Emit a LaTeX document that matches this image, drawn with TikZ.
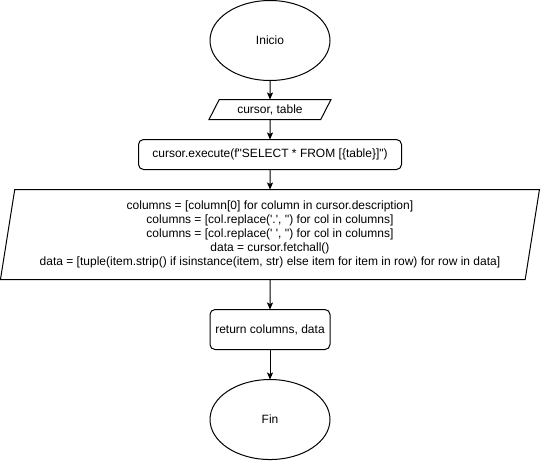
\documentclass[tikz,border=0pt]{standalone}
\usepackage{fontspec}
\setmainfont{Liberation Sans}[Ligatures=TeXOff]
\usepackage{tikz}
\usetikzlibrary{positioning,shapes.geometric,arrows.meta}
\tikzset{
  terminal/.style={ % image of a start / end node
    draw, ellipse, minimum width=120pt, minimum height=80pt,
    inner sep=0pt, outer sep=0pt, text=black
  },
  entrada/.style={ % image of an input parallelogram
    draw, trapezium, trapezium left angle=45, trapezium right angle=135,
    trapezium stretches body, inner sep=0pt, outer sep=0pt, text=black
  },
  proceso/.style={ % image of a process box
    draw, rectangle, rounded corners=5pt, inner sep=0pt, outer sep=0pt,
    text=black
  },
  flecha/.style={
    -{Stealth[length=7pt,width=6pt,inset=1.5pt]}
  }
}

\begin{document}
\begin{tikzpicture}[
      x=1pt, y=1pt, line width=1pt, node distance=20pt,
      font=\fontsize{12}{14}\selectfont
    ]
      \useasboundingbox (0,0) rectangle (541,-461);

      \node[terminal] (inicio) at (270,-40.5) {Inicio};
      \node[entrada, minimum width=122pt, minimum height=20pt]
        (params) [below=19pt of inicio] {cursor, table};
      \node[proceso, minimum width=263pt, minimum height=30pt]
        (execute) [below=of params] {cursor.execute(f"SELECT * FROM [\{table\}]")};
      \node[entrada, trapezium left angle=78, trapezium right angle=102,
        minimum width=539pt, minimum height=90pt, align=center]
        (datos) [below=of execute] {columns = [column[0] for column in cursor.description]\\
        columns = [col.replace('.', '') for col in columns]\\
        columns = [col.replace(' ', '') for col in columns]\\
        data = cursor.fetchall()\\
        data = [tuple(item.strip() if isinstance(item, str) else item for item in row) for row in data]};
      \node[proceso, minimum width=120pt, minimum height=40pt]
        (retorno) [below=30pt of datos] {return columns, data};
      \node[terminal] (fin) [below=30pt of retorno] {Fin};

      \draw[flecha] (inicio) -- (params);
      \draw[flecha] (params) -- (execute);
      \draw[flecha] (execute) -- (datos);
      \draw[flecha] (datos) -- (retorno);
      \draw[flecha] (retorno) -- (fin);
    \end{tikzpicture}
\end{document}
